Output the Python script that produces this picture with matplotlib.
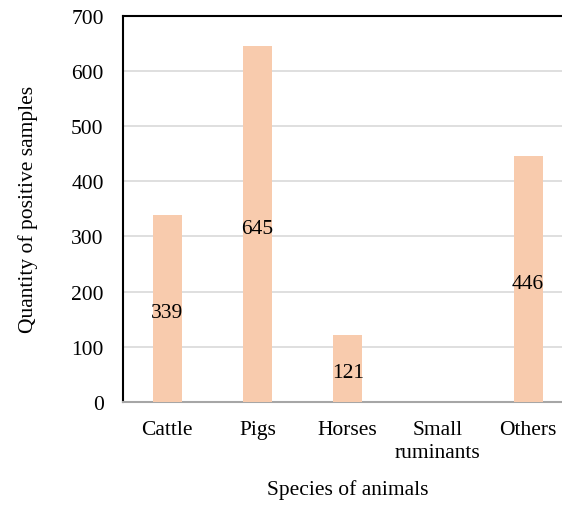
import matplotlib
matplotlib.use("Agg")
import matplotlib.pyplot as plt
import numpy as np

categories = ["Cattle", "Pigs", "Horses", "Small\nruminants", "Others"]
values = [339, 645, 121, None, 446]
yticks = [0, 100, 200, 300, 400, 500, 600, 700]

plt.rcParams['font.family'] = ['Liberation Serif', 'DejaVu Serif']
FS = 15.5

fig = plt.figure(figsize=(5.62, 5.10), dpi=100)
ax = fig.add_axes([0.219, 0.2098, 0.801, 0.7577])

x = np.arange(len(categories))
vals = [np.nan if v is None else v for v in values]
bars = ax.bar(x, vals, width=0.32, color="#F8CBAD", zorder=3)
for xi, v in zip(x, values):
    if v is not None:
        ax.annotate(str(v), xy=(xi, v / 2), xytext=(0, -3), textcoords="offset points",
                    ha="center", va="center", fontsize=FS, color="#000000", zorder=4)

ax.set_xlim(-0.49, 4.5)
ax.set_ylim(0, 700)
ax.set_yticks(yticks)
ax.set_xticks(x)
ax.set_xticklabels(categories, fontsize=FS, linespacing=1.28)
ax.tick_params(axis="y", length=0, pad=14, labelsize=FS)
ax.tick_params(axis="x", length=0, pad=13, labelsize=FS)
ax.yaxis.grid(True, color="#d9d9d9", linewidth=1.2, zorder=0)
ax.set_axisbelow(True)

for s in ["left", "top"]:
    ax.spines[s].set_color("black")
    ax.spines[s].set_linewidth(1.5)
ax.spines["bottom"].set_color("#a6a6a6")
ax.spines["bottom"].set_linewidth(1.5)
ax.spines["right"].set_visible(False)

ax.set_ylabel("Quantity of positive samples", fontsize=FS, labelpad=24)
ax.set_xlabel("Species of animals", fontsize=FS, labelpad=12)

fig.savefig("out.png", dpi=100)
